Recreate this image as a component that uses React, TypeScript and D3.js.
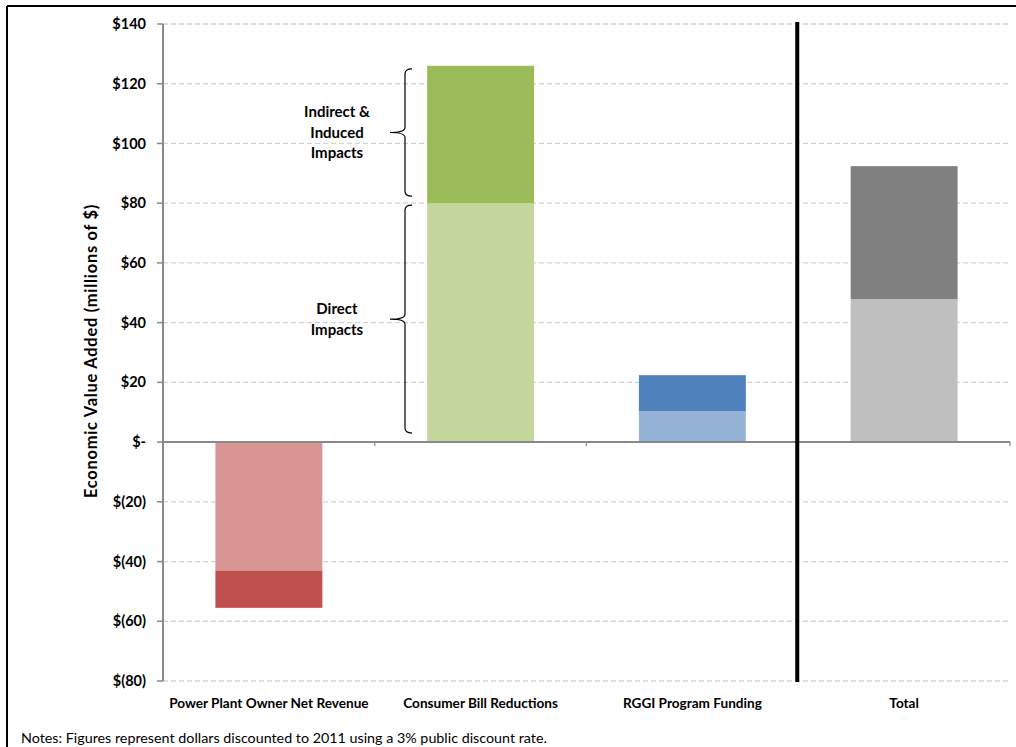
import React from "react";
import * as d3 from "d3";

const categories = [
  "Power Plant Owner Net Revenue",
  "Consumer Bill Reductions",
  "RGGI Program Funding",
  "Total",
];
const directImpacts = [-43, 80, 10.4, 47.9];
const indirectImpacts = [-12.5, 46, 12, 44.5];
const directColors = ["#d99594", "#c3d69b", "#95b3d7", "#bfbfbf"];
const indirectColors = ["#c0504d", "#9bbb59", "#4f81bd", "#808080"];
const yTicks = [140, 120, 100, 80, 60, 40, 20, 0, -20, -40, -60, -80];

const W = 1016;
const H = 747;
const FONT = "Lato, 'Open Sans', sans-serif";

const fmt = (v: number) =>
  v === 0 ? "$-" : v < 0 ? `$(${Math.abs(v)})` : `$${v}`;

export default function App() {
  const x = d3.scaleBand<string>().domain(categories).range([163, 1010]).paddingInner(0.495).paddingOuter(0.2475);
  const y = d3.scaleLinear().domain([-80, 140]).range([681, 24]);
  const band = (1010 - 163) / categories.length;

  // each bar: direct segment from 0, indirect stacked beyond it
  const segments = categories.flatMap((c, i) => {
    const d = directImpacts[i];
    const ind = indirectImpacts[i];
    return [
      { c, y0: 0, y1: d, color: directColors[i] },
      { c, y0: d, y1: d + ind, color: indirectColors[i] },
    ];
  });

  // curly brace opening to the right, tip pointing left
  const brace = (xb: number, top: number, bottom: number) => {
    const mid = (top + bottom) / 2;
    const r = 5;
    return [
      `M${xb + 7},${top}`,
      `Q${xb},${top} ${xb},${top + r}`,
      `L${xb},${mid - r}`,
      `Q${xb},${mid} ${xb - 15},${mid}`,
      `Q${xb},${mid} ${xb},${mid + r}`,
      `L${xb},${bottom - r}`,
      `Q${xb},${bottom} ${xb + 7},${bottom}`,
    ].join(" ");
  };

  const green = 1;
  const gDirect = directImpacts[green];
  const gTotal = gDirect + indirectImpacts[green];
  const braceX = 405;
  const upper = { top: y(gTotal) + 3, bottom: y(gDirect) - 7 };
  const lower = { top: y(gDirect) + 2, bottom: y(0) - 9 };
  const textX = 337;

  const sepX = 163 + band * 3 - 1;

  return (
    <svg width={W} height={H} style={{ position: "absolute", left: 0, top: 0, background: "#fff" }}>
      <rect x={0} y={0} width={W} height={H} fill="#fff" />
      {/* outer frame */}
      <line x1={7} x2={W} y1={6} y2={6} stroke="#000" strokeWidth={2} />
      <line x1={7} x2={7} y1={6} y2={H} stroke="#000" strokeWidth={2} />

      {/* gridlines */}
      {yTicks.filter((t) => t !== 0).map((t) => (
        <line key={t} x1={163} x2={1010} y1={y(t)} y2={y(t)} stroke="#d4d4d4" strokeWidth={1.3} strokeDasharray="5,3" />
      ))}

      {/* bars */}
      {segments.map((s, i) => (
        <rect
          key={i}
          x={x(s.c)!}
          width={x.bandwidth()}
          y={y(Math.max(s.y0, s.y1))}
          height={Math.abs(y(s.y0) - y(s.y1))}
          fill={s.color}
        />
      ))}

      {/* y axis */}
      <line x1={163} x2={163} y1={y(140)} y2={y(-80)} stroke="#898989" strokeWidth={2} />
      {yTicks.map((t) => (
        <g key={t}>
          <line x1={157} x2={163} y1={y(t)} y2={y(t)} stroke="#898989" strokeWidth={1.5} />
          <text x={146} y={y(t)} dy="0.35em" textAnchor="end" fontFamily={FONT} fontWeight={700} fontSize={14.5} fill="#000">
            {fmt(t)}
          </text>
        </g>
      ))}

      {/* zero axis with category ticks */}
      <line x1={163} x2={1010} y1={y(0)} y2={y(0)} stroke="#898989" strokeWidth={2} />
      {d3.range(1, categories.length + 1).map((k) => (
        <line key={k} x1={163 + band * k} x2={163 + band * k} y1={y(0)} y2={y(0) + 4} stroke="#898989" strokeWidth={1.2} />
      ))}

      {/* separator before Total */}
      <line x1={sepX} x2={sepX} y1={y(140) - 2} y2={y(-80) + 1} stroke="#000" strokeWidth={4} />

      {/* category labels */}
      {categories.map((c) => (
        <text key={c} x={x(c)! + x.bandwidth() / 2} y={708} textAnchor="middle" fontFamily={FONT} fontWeight={700} fontSize={13.6} fill="#000">
          {c}
        </text>
      ))}

      {/* y axis title */}
      <text
        transform={`translate(97,351) rotate(-90)`}
        textAnchor="middle"
        fontFamily={FONT}
        fontWeight={700}
        fontSize={16.5}
        letterSpacing={0.7}
        fill="#000"
      >
        Economic Value Added (millions of $)
      </text>

      {/* braces and annotations */}
      <path d={brace(braceX, upper.top, upper.bottom)} fill="none" stroke="#000" strokeWidth={1.2} />
      <path d={brace(braceX, lower.top, lower.bottom)} fill="none" stroke="#000" strokeWidth={1.2} />
      {["Indirect &", "Induced", "Impacts"].map((t, i) => (
        <text key={t} x={textX} y={(upper.top + upper.bottom) / 2 - 15 + i * 20.5} textAnchor="middle" fontFamily={FONT} fontWeight={700} fontSize={15} fill="#000">
          {t}
        </text>
      ))}
      {["Direct", "Impacts"].map((t, i) => (
        <text key={t} x={textX} y={(lower.top + lower.bottom) / 2 - 5 + i * 20.5} textAnchor="middle" fontFamily={FONT} fontWeight={700} fontSize={15} fill="#000">
          {t}
        </text>
      ))}

      {/* note */}
      <text x={21} y={743} fontFamily={FONT} fontSize={14.3} fill="#000">
        Notes: Figures represent dollars discounted to 2011 using a 3% public discount rate.
      </text>
    </svg>
  );
}
